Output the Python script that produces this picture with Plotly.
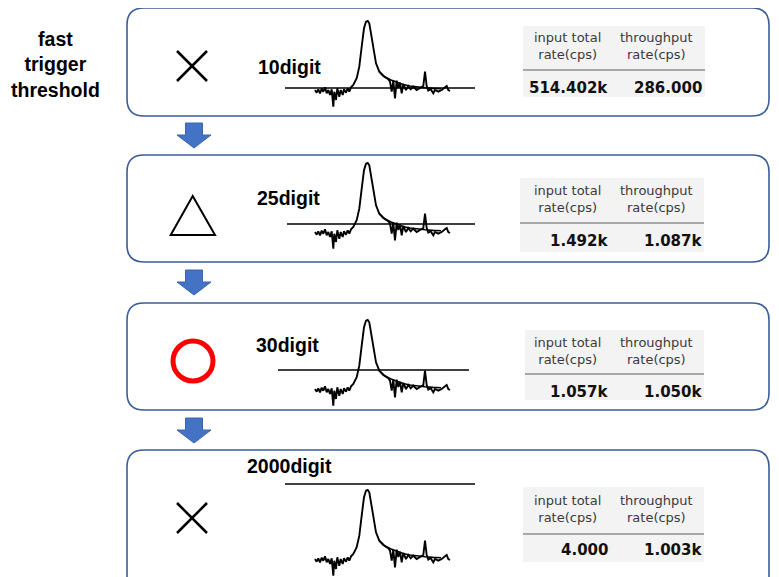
import plotly.graph_objects as go

# ---------------- data ----------------
thresholds = ["10digit", "25digit", "30digit", "2000digit"]
input_rates = ["514.402k", "1.492k", "1.057k", "4.000"]
throughput_rates = ["286.000", "1.087k", "1.050k", "1.003k"]
verdicts = ["cross", "triangle", "circle", "cross"]
# threshold level relative to the waveform baseline (waveform units)
threshold_level = [1, 7, 18, 74]
header_input = "input total<br>rate(cps)"
header_through = "throughput<br>rate(cps)"
side_title = "fast<br>trigger<br>threshold"

# waveform (noisy detector pulse), baseline = 0
wave_x = [0, 1.7, 3.3, 5, 6.7, 8.3, 10, 11.7, 13.3, 15, 16.7, 18.3, 19.3, 21, 22.3,
          24.3, 25.7, 27.7, 29, 31, 32.7, 34.3, 36, 38.3, 41.7, 44.3, 46.7, 49, 51,
          52.7, 54.3, 56, 58.3, 61, 64.3, 68.3, 73.3, 75, 76.7, 78.3, 80, 81.7, 83.3,
          85, 86.7, 88.3, 91, 93.3, 95.7, 98.3, 101.7, 105, 108.3, 110, 111.7, 113.3,
          115.7, 118.3, 120, 123.3, 126.7, 130, 131.7, 133.3, 135]
wave_y = [-1, -3.7, -0.3, -4.3, 0.3, -2.7, 1.7, -4.3, -1, -6, -0.3, -17.7, -2.7, -11, 0.7,
          -7.7, -1, -6, -0.3, -3.7, 0.7, -2.7, 1.7, 4, 10.7, 22.3, 42.3, 60.7, 67.3,
          68, 65.7, 55.7, 39, 25.7, 17.3, 13, 9.7, 7.3, -2.7, 8.3, -9.3, 8.3, 1,
          6.3, -4.3, 5, -1, 3, -0.3, 2.3, -1, 1, 3, 17.3, 3, -1.7, -0.3, -4.3, -1,
          -2.7, -1, 1.7, 3, -1, -2]
tail_x = [64.3, 70, 76, 82, 88, 95, 102, 110, 118, 126]
tail_y = [17.3, 12, 9, 6.5, 4.5, 3, 2, 1.2, 0.6, 0.3]
line_x0 = [-30, -28, -37, -30]
line_x1 = [160, 160, 154, 160]

# ---------------- layout geometry (pixels of the reference) ----------------
W, H = 779, 577
OFF = 8  # page body margin compensation
FW, FH = W - OFF, H - OFF
YMAX = H
BOX_R = 769
box_tops = [8, 155, 303, 450]
box_bots = [116, 262, 410, 600]
baseline_px = [89, 231, 388, 558]
label_pos = [(256, 67), (255, 198), (254, 345), (245, 466)]
hdr_y = [37, 190, 342, 500]
sep_y = [70, 223, 374, 534]
val_y = [88, 241, 392, 550]
tbl_bg = [(523, 26, 705, 97), (520, 178, 704, 252), (525, 330, 704, 400), (523, 487, 704, 562)]
sym_cy = [66, 215, 361, 518]
arrow_tops = [123, 270, 418]

fig = go.Figure()
layout_axes = {}
for i in range(4):
    k = i + 2
    B = baseline_px[i]
    top = B - 80
    bottom = min(B + 25, YMAX)
    fig.add_trace(go.Scatter(x=tail_x, y=tail_y, mode="lines",
                             line=dict(color="black", width=1.6),
                             xaxis=f"x{k}", yaxis=f"y{k}", hoverinfo="skip", showlegend=False))
    fig.add_trace(go.Scatter(x=wave_x, y=wave_y, mode="lines",
                             line=dict(color="black", width=1.9),
                             xaxis=f"x{k}", yaxis=f"y{k}", hoverinfo="skip", showlegend=False))
    fig.add_trace(go.Scatter(x=[line_x0[i], line_x1[i]],
                             y=[threshold_level[i], threshold_level[i]], mode="lines",
                             line=dict(color="black", width=1.7),
                             xaxis=f"x{k}", yaxis=f"y{k}", hoverinfo="skip", showlegend=False))
    layout_axes[f"xaxis{k}"] = dict(domain=[(270 - OFF) / FW, (480 - OFF) / FW], range=[-45, 165],
                                    visible=False, anchor=f"y{k}", fixedrange=True)
    layout_axes[f"yaxis{k}"] = dict(domain=[1 - (bottom - OFF) / FH, 1 - (top - OFF) / FH],
                                    range=[-(bottom - B), 80],
                                    visible=False, anchor=f"x{k}", fixedrange=True)


def rrect(x0, y0, x1, y1, r):
    return (f"M{x0+r},{y0} L{x1-r},{y0} Q{x1},{y0} {x1},{y0+r} L{x1},{y1-r} "
            f"Q{x1},{y1} {x1-r},{y1} L{x0+r},{y1} Q{x0},{y1} {x0},{y1-r} "
            f"L{x0},{y0+r} Q{x0},{y0} {x0+r},{y0} Z")


shapes = []
annotations = []
for i in range(4):
    shapes.append(dict(type="path", xref="x", yref="y", layer="below",
                       path=rrect(127, box_tops[i], BOX_R, box_bots[i], 17),
                       line=dict(color="#3B5C9A", width=1.6), fillcolor="white"))
    bx0, by0, bx1, by1 = tbl_bg[i]
    shapes.append(dict(type="rect", xref="x", yref="y", layer="below",
                       x0=bx0, y0=by0, x1=bx1, y1=by1,
                       line=dict(width=0), fillcolor="#F3F3F3"))
    shapes.append(dict(type="line", xref="x", yref="y", x0=bx0, x1=bx1,
                       y0=sep_y[i], y1=sep_y[i], line=dict(color="#A8A8A8", width=2)))
    annotations.append(dict(x=567, y=hdr_y[i] + 9, text=header_input, showarrow=False,
                            xref="x", yref="y", xanchor="center", yanchor="middle",
                            font=dict(family="DejaVu Sans", size=13, color="#3A3A3A")))
    annotations.append(dict(x=656, y=hdr_y[i] + 9, text=header_through, showarrow=False,
                            xref="x", yref="y", xanchor="center", yanchor="middle",
                            font=dict(family="DejaVu Sans", size=13, color="#3A3A3A")))
    annotations.append(dict(x=610, y=val_y[i], text=f"<b>{input_rates[i]}</b>", showarrow=False,
                            xref="x", yref="y", xanchor="right", yanchor="middle",
                            font=dict(family="DejaVu Sans", size=15, color="#111111")))
    annotations.append(dict(x=704, y=val_y[i], text=f"<b>{throughput_rates[i]}</b>", showarrow=False,
                            xref="x", yref="y", xanchor="right", yanchor="middle",
                            font=dict(family="DejaVu Sans", size=15, color="#111111")))
    lx, ly = label_pos[i]
    annotations.append(dict(x=lx, y=ly, text=f"<b>{thresholds[i]}</b>", showarrow=False,
                            xref="x", yref="y", xanchor="left", yanchor="middle",
                            font=dict(family="Liberation Sans", size=19.5, color="black")))
    cy = sym_cy[i]
    if verdicts[i] == "cross":
        shapes.append(dict(type="line", xref="x", yref="y", x0=177, y0=cy - 15, x1=207, y1=cy + 15,
                           line=dict(color="black", width=2.5)))
        shapes.append(dict(type="line", xref="x", yref="y", x0=207, y0=cy - 15, x1=177, y1=cy + 15,
                           line=dict(color="black", width=2.5)))
    elif verdicts[i] == "triangle":
        shapes.append(dict(type="path", xref="x", yref="y",
                           path=f"M192.7,{cy-19} L215,{cy+20} L170.7,{cy+20} Z",
                           line=dict(color="black", width=2), fillcolor="rgba(0,0,0,0)"))
    else:
        shapes.append(dict(type="circle", xref="x", yref="y", x0=173, y0=cy - 20, x1=213, y1=cy + 20,
                           line=dict(color="#FF0000", width=5)))

for t in arrow_tops:
    cx = 194
    shapes.append(dict(type="path", xref="x", yref="y",
                       path=(f"M{cx-8.5},{t} L{cx+8.5},{t} L{cx+8.5},{t+12} L{cx+17},{t+12} "
                             f"L{cx},{t+25} L{cx-17},{t+12} L{cx-8.5},{t+12} Z"),
                       line=dict(color="#3A64B0", width=1), fillcolor="#4472C4"))

annotations.append(dict(x=55, y=64, text=f"<b>{side_title}</b>", showarrow=False,
                        xref="x", yref="y", xanchor="center", yanchor="middle",
                        font=dict(family="Liberation Sans", size=19.5, color="black")))

fig.update_layout(
    width=FW, height=FH, margin=dict(l=0, r=0, t=0, b=0),
    paper_bgcolor="white", plot_bgcolor="rgba(0,0,0,0)",
    xaxis=dict(range=[OFF, W], domain=[0, 1], visible=False, fixedrange=True),
    yaxis=dict(range=[YMAX, OFF], domain=[0, 1], visible=False, fixedrange=True),
    shapes=shapes, annotations=annotations, showlegend=False,
    **layout_axes,
)
fig.write_html("out.html")
